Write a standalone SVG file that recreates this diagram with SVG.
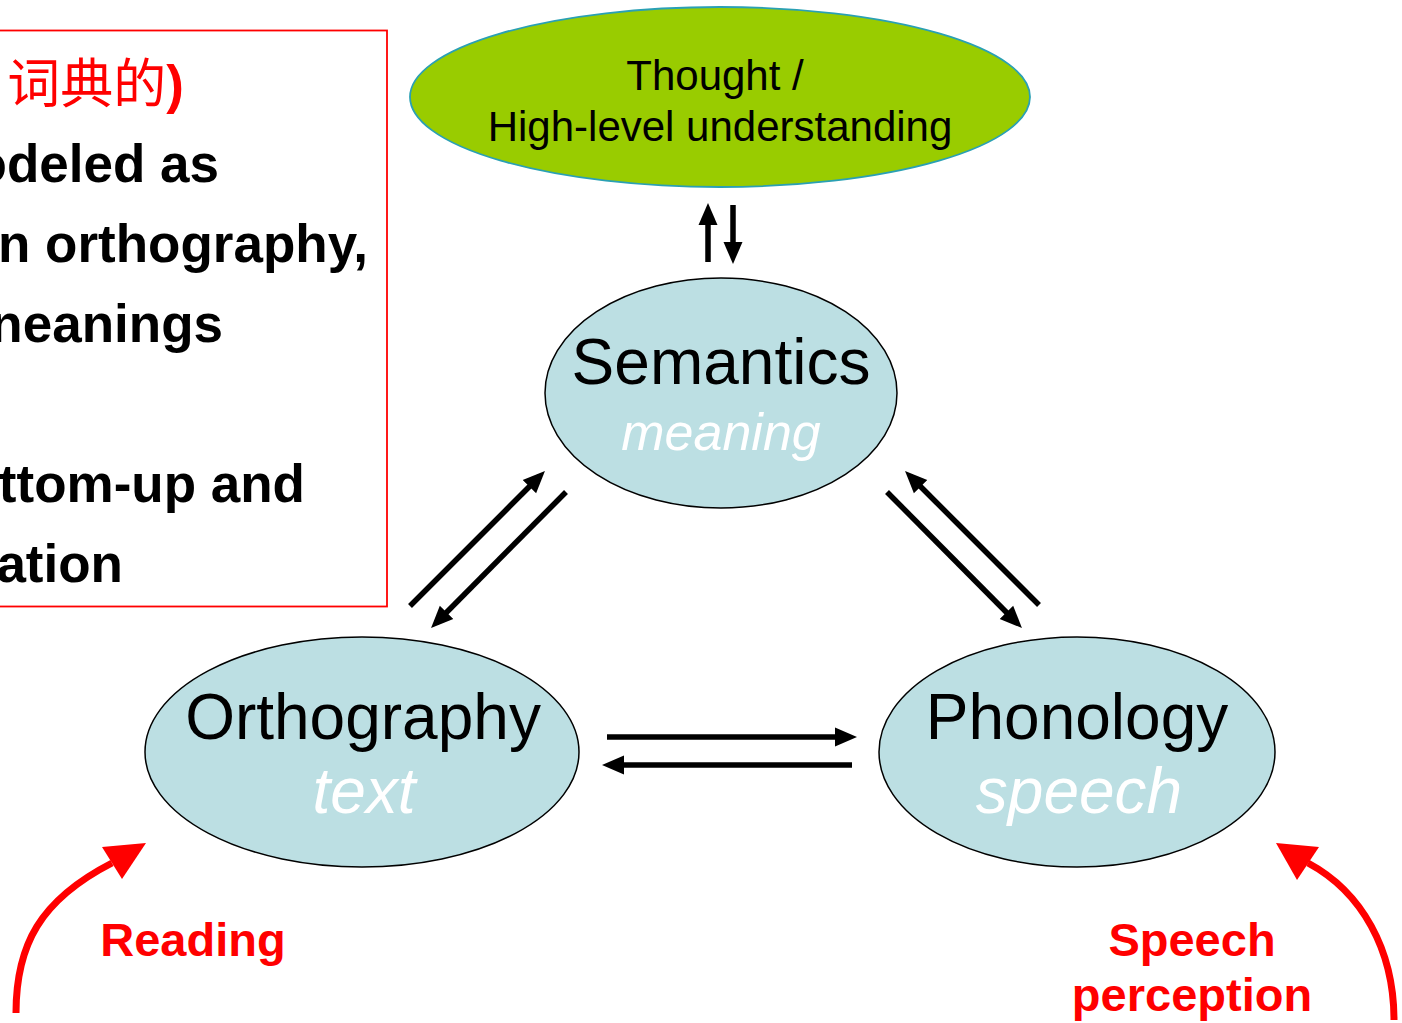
<svg xmlns="http://www.w3.org/2000/svg" width="1402" height="1023" viewBox="0 0 1402 1023">
  <defs>
    <style>
      .sans { font-family: "Liberation Sans", Arial, sans-serif; }
      .node { fill: #bcdfe3; stroke: #000; stroke-width: 1.5; }
      .title { font-size: 64px; fill: #000; text-anchor: middle; }
      .sub { font-size: 64px; fill: #fff; font-style: italic; text-anchor: middle; }
      .note { font-size: 53px; font-weight: bold; fill: #000; text-anchor: end; }
      .label { font-size: 47px; font-weight: bold; fill: #ff0000; text-anchor: middle; }
      .conn { stroke: #000; stroke-width: 5.5; fill: none; marker-end: url(#head); }
      .red { stroke: #ff0000; stroke-width: 7; fill: none; }
    </style>
    <marker id="head" markerUnits="userSpaceOnUse" markerWidth="22" markerHeight="22" viewBox="0 0 22 22" refX="15" refY="11" orient="auto">
      <path d="M0,1.5 L22,11 L0,20.5 z" fill="#000"/>
    </marker>
  </defs>

  <rect width="1402" height="1023" fill="#fff"/>

  <!-- note panel, cut at the left edge -->
  <g id="note-panel">
    <rect x="-10" y="30.5" width="397" height="576" fill="none" stroke="#ff0000" stroke-width="1.8"/>
    <text x="184" y="103" text-anchor="end" font-size="53" fill="#ff0000" font-family="'Noto Sans CJK SC', 'Liberation Sans', sans-serif">词典的<tspan font-family="'Liberation Sans', sans-serif" font-weight="bold">)</tspan></text>
    <text class="sans note" x="219" y="182">odeled as</text>
    <text class="sans note" x="368" y="262">n orthography,</text>
    <text class="sans note" x="223" y="342">neanings</text>
    <text class="sans note" x="305" y="502">ttom-up and</text>
    <text class="sans note" x="123" y="582">ation</text>
  </g>

  <g id="thought">
    <ellipse cx="720" cy="97" rx="310" ry="90" fill="#99cc00" stroke="#2aa0b4" stroke-width="1.8"/>
    <text class="sans" x="715" y="90" font-size="42" text-anchor="middle">Thought /</text>
    <text class="sans" x="720" y="141" font-size="42" text-anchor="middle">High-level understanding</text>
  </g>

  <g id="semantics">
    <ellipse class="node" cx="721" cy="393" rx="176" ry="115"/>
    <text class="sans title" x="721" y="384">Semantics</text>
    <text class="sans sub" x="721" y="450" style="font-size:52px">meaning</text>
  </g>

  <g id="orthography">
    <ellipse class="node" cx="362" cy="752" rx="217" ry="115"/>
    <text class="sans title" x="363" y="739">Orthography</text>
    <text class="sans sub" x="364" y="813">text</text>
  </g>

  <g id="phonology">
    <ellipse class="node" cx="1077" cy="752" rx="198" ry="115"/>
    <text class="sans title" x="1077" y="739">Phonology</text>
    <text class="sans sub" x="1079" y="813">speech</text>
  </g>

  <g id="connectors">
    <!-- semantics <-> thought -->
    <line class="conn" x1="708" y1="262" x2="708" y2="210"/>
    <line class="conn" x1="733" y1="205" x2="733" y2="257"/>
    <!-- orthography <-> semantics -->
    <line class="conn" x1="410" y1="606" x2="540" y2="476"/>
    <line class="conn" x1="566" y1="492" x2="436" y2="623"/>
    <!-- phonology <-> semantics -->
    <line class="conn" x1="1039" y1="605" x2="910" y2="476"/>
    <line class="conn" x1="887" y1="492" x2="1017" y2="623"/>
    <!-- orthography <-> phonology -->
    <line class="conn" x1="607" y1="737" x2="850" y2="737"/>
    <line class="conn" x1="852" y1="765" x2="609" y2="765"/>

    <!-- input routes -->
    <path class="red" d="M16,1013 C16,945 40,900 112,863"/>
    <polygon points="146,843 102,847 122,879" fill="#ff0000"/>
    <path class="red" d="M1394,1020 C1394,950 1362,892 1308,863"/>
    <polygon points="1276,843 1319,847 1297,880" fill="#ff0000"/>
  </g>

  <g id="route-labels">
    <text class="sans label" x="193" y="956">Reading</text>
    <text class="sans label" x="1192" y="956">Speech</text>
    <text class="sans label" x="1192" y="1011">perception</text>
  </g>
</svg>
